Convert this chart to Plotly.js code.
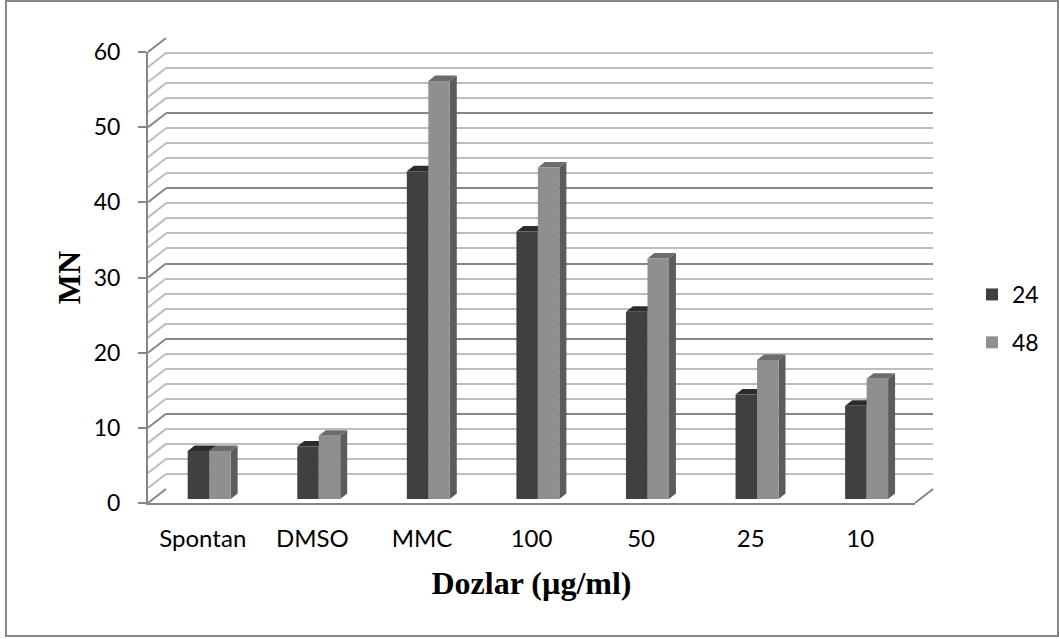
<!DOCTYPE html>
<html>
<head>
<meta charset="utf-8">
<script src="https://cdn.plot.ly/plotly-3.0.1.min.js"></script>
<style>html,body{margin:0;padding:0;background:#fff;}#chart{width:1059px;height:639px;}</style>
</head>
<body>
<div id="chart"></div>
<script>
// ---- data ----
const categories = ['Spontan', 'DMSO', 'MMC', '100', '50', '25', '10'];
const series24 = [6.4, 7.0, 43.6, 35.6, 24.9, 13.9, 12.4];
const series48 = [6.4, 8.4, 55.6, 44.1, 32.0, 18.5, 16.0];
const seriesNames = ['24', '48'];
const yTickVals = [0, 10, 20, 30, 40, 50, 60];
const yMax = 60;
const xTitle = 'Dozlar (µg/ml)';
const yTitle = 'MN';

// ---- geometry (pixels) ----
const W = 1059, H = 639;
const L = 148, R = 933, T = 37, B = 503;
const PW = R - L, PH = B - T;
const frontW = 767, frontH = 451;          // front axis plane
const barDX = 10, barDY = 4;                // bar plane shift
const backDX = 18, backDY = 14;             // back wall shift
const depthX = 7, depthY = 5.5;             // bar 3D depth in px

const idx = categories.map((c, i) => i);
const unitX = frontW / categories.length;   // px per category
const unitY = frontH / yMax;                // px per value unit
const dX = depthX / unitX, dY = depthY / unitY;
const barW = 0.196, off24 = -0.229, off48 = off24 + barW;

const major = '#868686', minor = '#bdbdbd';
const c24 = '#404040', c48 = '#8f8f8f';
const top24 = '#2c2c2c', top48 = '#6c6c6c', side48 = '#5c5c5c', side24 = '#262626';

const traces = [
  // back wall subplot (gridlines only)
  {type: 'scatter', x: [], y: [], xaxis: 'x', yaxis: 'y', showlegend: false, hoverinfo: 'skip'},
  // front axis subplot
  {type: 'scatter', x: [], y: [], xaxis: 'x2', yaxis: 'y2', showlegend: false, hoverinfo: 'skip'},
  // bars
  {type: 'bar', name: seriesNames[0], x: idx, y: series24, xaxis: 'x3', yaxis: 'y3',
   width: barW, offset: off24, marker: {color: c24, line: {width: 0}}, legendgroup: 'a'},
  {type: 'bar', name: seriesNames[1], x: idx, y: series48, xaxis: 'x3', yaxis: 'y3',
   width: barW, offset: off48, marker: {color: c48, line: {width: 0}}, legendgroup: 'b'}
];

const shapes = [];
// 3D faces of bars (below traces of bar subplot => correct occlusion)
function faces(vals, off, topCol, sideCol) {
  vals.forEach((v, i) => {
    const x0 = i + off, x1 = x0 + barW;
    shapes.push({type: 'path', xref: 'x3', yref: 'y3', layer: 'below', line: {width: 0}, fillcolor: sideCol,
      path: `M${x1},0 L${x1},${v} L${x1 + dX},${v + dY} L${x1 + dX},${dY} Z`});
    shapes.push({type: 'path', xref: 'x3', yref: 'y3', layer: 'below', line: {width: 0}, fillcolor: topCol,
      path: `M${x0},${v} L${x1},${v} L${x1 + dX},${v + dY} L${x0 + dX},${v + dY} Z`});
  });
}
faces(series24, off24, top24, side24);
faces(series48, off48, top48, side48);

// left wall diagonals
for (let v = 0; v <= yMax; v += 2) {
  const yf = v * unitY / PH, yb = (backDY + v * unitY) / PH;
  shapes.push({type: 'line', xref: 'paper', yref: 'paper', layer: 'below',
    x0: 0, y0: yf, x1: backDX / PW, y1: yb,
    line: {color: v % 10 === 0 ? major : minor, width: 2}});
}
// floor right diagonal
shapes.push({type: 'line', xref: 'paper', yref: 'paper', layer: 'below',
  x0: frontW / PW, y0: 0, x1: 1, y1: backDY / PH, line: {color: major, width: 2}});
// outer border
shapes.push({type: 'rect', xref: 'paper', yref: 'paper', layer: 'below',
  x0: (6 - L) / PW, x1: (1058 - L) / PW, y0: (B - 636) / PH, y1: (B - 1) / PH,
  line: {color: '#878787', width: 2}, fillcolor: 'rgba(0,0,0,0)'});

const tickFont = {family: 'Lato, "Open Sans", sans-serif', size: 23, color: '#000'};
const catFont = {family: 'Lato, "Open Sans", sans-serif', size: 24, color: '#000'};
const titleFont = {family: '"Liberation Serif", "Times New Roman", serif', size: 32, color: '#000', weight: 'bold'};

const layout = {
  width: W, height: H,
  margin: {l: L, r: W - R, t: T, b: H - B, pad: 0},
  paper_bgcolor: '#fff', plot_bgcolor: 'rgba(0,0,0,0)',
  showlegend: true,
  barmode: 'group',
  // back wall
  xaxis: {domain: [backDX / PW, 1], range: [-0.5, 6.5], visible: false, anchor: 'y', fixedrange: true},
  yaxis: {domain: [backDY / PH, (backDY + frontH) / PH], range: [0, yMax], anchor: 'x',
    showticklabels: false, ticks: '', showline: false, zeroline: false,
    showgrid: true, dtick: 10, gridcolor: major, gridwidth: 2,
    minor: {dtick: 2, showgrid: true, gridcolor: minor, gridwidth: 2}},
  // front axes
  xaxis2: {domain: [0, frontW / PW], range: [-0.5, 6.5], anchor: 'y2',
    tickmode: 'array', tickvals: idx, ticktext: categories, ticks: '',
    showline: true, linecolor: major, linewidth: 2, showgrid: false, zeroline: false,
    tickfont: catFont, ticklabelstandoff: 13,
    title: {text: xTitle, font: titleFont, standoff: 21}},
  yaxis2: {domain: [0, frontH / PH], range: [0, yMax], anchor: 'x2',
    tickmode: 'array', tickvals: yTickVals, ticks: 'outside', ticklen: 8, tickwidth: 2, tickcolor: major,
    showline: true, linecolor: major, linewidth: 2, showgrid: false, zeroline: false,
    tickfont: tickFont, ticklabelstandoff: 13,
    title: {text: yTitle, font: titleFont, standoff: 4}},
  // bars plane
  xaxis3: {domain: [barDX / PW, (barDX + frontW) / PW], range: [-0.5, 6.5], visible: false, anchor: 'y3'},
  yaxis3: {domain: [barDY / PH, (barDY + frontH) / PH], range: [0, yMax], visible: false, anchor: 'x3'},
  legend: {xref: 'container', yref: 'container', x: 972 / W, y: 1 - 273 / H, xanchor: 'left', yanchor: 'top',
    font: tickFont, tracegroupgap: 15, traceorder: 'grouped', bgcolor: 'rgba(0,0,0,0)'},
  shapes: shapes
};

Plotly.newPlot('chart', traces, layout, {displayModeBar: false, staticPlot: true});
</script>
</body>
</html>
